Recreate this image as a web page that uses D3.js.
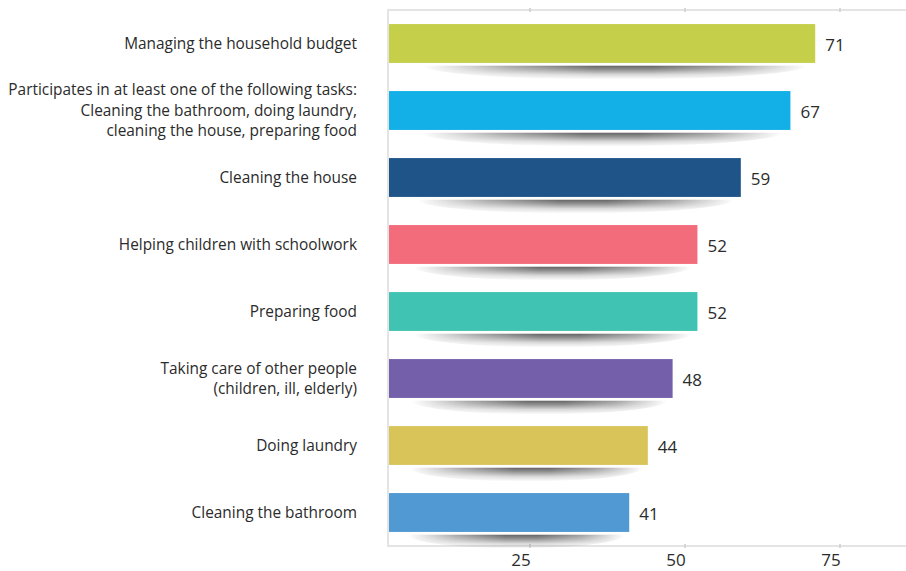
<!DOCTYPE html>
<html>
<head>
<meta charset="utf-8">
<script src="https://cdn.jsdelivr.net/npm/d3@7"></script>
<style>
  html, body { margin: 0; padding: 0; background: #fff; }
  svg { display: block; }
  text { font-family: "Open Sans", "Noto Sans", sans-serif; fill: #2b2b2b; }
</style>
</head>
<body>
<svg id="chart" width="906" height="571"></svg>
<script>
// ---- data ----
const categories = [
  ["Managing the household budget"],
  ["Participates in at least one of the following tasks:", "Cleaning the bathroom, doing laundry,", "cleaning the house, preparing food"],
  ["Cleaning the house"],
  ["Helping children with schoolwork"],
  ["Preparing food"],
  ["Taking care of other people", "(children, ill, elderly)"],
  ["Doing laundry"],
  ["Cleaning the bathroom"]
];
const values = [71, 67, 59, 52, 52, 48, 44, 41];
const colors = ["#C5CF4A", "#12B0E6", "#1F5489", "#F36C7B", "#41C3B3", "#745FAA", "#D9C45A", "#5199D3"];
const tickValues = [25, 50, 75];

// ---- layout ----
const W = 906, H = 571;
const plotLeft = 389, plotRight = 902, plotTop = 10, plotBottom = 546;
const svg = d3.select("#chart");

const keys = categories.map((c, i) => i);
const x = d3.scaleLinear().domain([2.25, 85]).range([plotLeft, plotRight]);
const y = d3.scaleBand().domain(keys).range([plotTop, plotBottom]).paddingInner(0.42).paddingOuter(0.21);

// shadow paint: horizontal fade gradient + vertical fade mask
const defs = svg.append("defs");
const hg = defs.append("linearGradient").attr("id", "shadowH")
  .attr("x1", 0).attr("x2", 1).attr("y1", 0).attr("y2", 0);
[[0, 0], [0.22, 0.45], [0.45, 0.8], [0.6, 0.8], [0.8, 0.5], [1, 0]].forEach(([o, a]) =>
  hg.append("stop").attr("offset", o).attr("stop-color", "#3a3a3a").attr("stop-opacity", a));
const vg = defs.append("linearGradient").attr("id", "shadowV")
  .attr("x1", 0).attr("x2", 0).attr("y1", 0).attr("y2", 1);
[[0, 1], [0.3, 0.7], [0.65, 0.25], [1, 0]].forEach(([o, a]) =>
  vg.append("stop").attr("offset", o).attr("stop-color", "#fff").attr("stop-opacity", a));
defs.append("mask").attr("id", "shadowMask")
  .attr("maskContentUnits", "objectBoundingBox")
  .append("rect").attr("x", 0).attr("y", 0).attr("width", 1).attr("height", 1)
  .attr("fill", "url(#shadowV)");

// frame lines
const frameColor = "#e4e4e4";
svg.append("line").attr("x1", plotLeft - 1).attr("x2", W).attr("y1", plotTop).attr("y2", plotTop)
  .attr("stroke", frameColor).attr("stroke-width", 2);
svg.append("line").attr("x1", plotLeft - 1).attr("x2", W).attr("y1", plotBottom).attr("y2", plotBottom)
  .attr("stroke", frameColor).attr("stroke-width", 2);
svg.append("line").attr("x1", plotLeft - 1).attr("x2", plotLeft - 1).attr("y1", plotTop - 1).attr("y2", plotBottom + 1)
  .attr("stroke", frameColor).attr("stroke-width", 2);

// tick marks
const tickG = svg.append("g");
tickValues.forEach(t => {
  tickG.append("line").attr("x1", x(t)).attr("x2", x(t)).attr("y1", plotTop - 2).attr("y2", plotTop + 2)
    .attr("stroke", "#cdcdcd").attr("stroke-width", 1.5);
  tickG.append("line").attr("x1", x(t)).attr("x2", x(t)).attr("y1", plotBottom - 2).attr("y2", plotBottom + 2)
    .attr("stroke", "#cdcdcd").attr("stroke-width", 1.5);
});
// tick labels
svg.append("g").selectAll("text").data(tickValues).join("text")
  .attr("x", d => x(d) - 9)
  .attr("y", 566)
  .attr("text-anchor", "middle")
  .style("font-size", "17px")
  .text(d => d);

// shadows
svg.append("g").selectAll("path").data(values).join("path")
  .attr("d", (d, i) => {
    const w = x(d) - plotLeft;
    const cx = plotLeft + w * 0.53;
    const rx = w * 0.45;
    const y0 = y(i) + y.bandwidth() + 2.5;
    const ry = 14;
    return `M${cx - rx},${y0} A${rx},${ry} 0 0 0 ${cx + rx},${y0} Z`;
  })
  .attr("fill", "url(#shadowH)")
  .attr("mask", "url(#shadowMask)");

// bars
svg.append("g").selectAll("rect").data(values).join("rect")
  .attr("x", plotLeft)
  .attr("y", (d, i) => y(i))
  .attr("width", d => x(d) - plotLeft)
  .attr("height", y.bandwidth())
  .attr("fill", (d, i) => colors[i]);

// value labels
svg.append("g").selectAll("text").data(values).join("text")
  .attr("x", d => x(d) + 10)
  .attr("y", (d, i) => y(i) + y.bandwidth() / 2 + 2)
  .attr("dy", "0.35em")
  .style("font-size", "17px")
  .text(d => d);

// category labels
const lineH = 20.5;
const catG = svg.append("g");
categories.forEach((lines, i) => {
  const cy = y(i) + y.bandwidth() / 2;
  const t = catG.append("text")
    .attr("text-anchor", "end")
    .style("font-size", "15.4px");
  lines.forEach((ln, j) => {
    t.append("tspan")
      .attr("x", 357)
      .attr("y", cy + (j - (lines.length - 1) / 2) * lineH)
      .attr("dy", "0.35em")
      .text(ln);
  });
});
</script>
</body>
</html>
